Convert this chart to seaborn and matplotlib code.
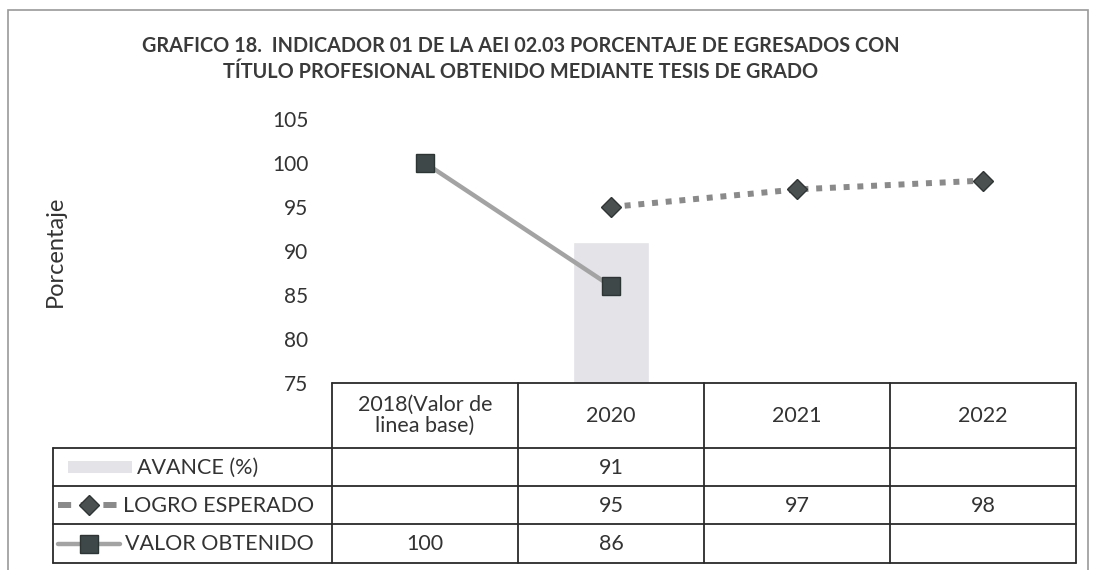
import numpy as np
import pandas as pd
import matplotlib
matplotlib.use("Agg")
import matplotlib.pyplot as plt
import seaborn as sns
from matplotlib.lines import Line2D
from matplotlib.patches import Rectangle

# ---------------- data ----------------
categories = ["2018(Valor de\nlinea base)", "2020", "2021", "2022"]
avance = [np.nan, 91, np.nan, np.nan]
logro = [np.nan, 95, 97, 98]
valor = [100, 86, np.nan, np.nan]
series_names = ["AVANCE (%)", "LOGRO ESPERADO", "VALOR OBTENIDO"]
yticks = [75, 80, 85, 90, 95, 100, 105]
title = ("GRAFICO 18.  INDICADOR 01 DE LA AEI 02.03 PORCENTAJE DE EGRESADOS CON\n"
         "TÍTULO PROFESIONAL OBTENIDO MEDIANTE TESIS DE GRADO")
ylabel = "Porcentaje"

# ---------------- style ----------------
sns.set_theme(style="white")
plt.rcParams['font.family'] = ['Lato', 'DejaVu Sans']
TXT = "#333333"
BAR = "#e3e3e8"
LINE_V = "#a3a3a3"
LINE_L = "#8a8a8a"
MK = "#3e4848"

W, H = 1094, 570
fig = plt.figure(figsize=(W / 100, H / 100), dpi=100)
fig.patch.set_facecolor("white")


def px(x0, y0, x1, y1):
    return [x0 / W, 1 - y1 / H, (x1 - x0) / W, (y1 - y0) / H]


PL, PR, PT, PB = 332, 1076, 119, 383
ax = fig.add_axes(px(PL, PT, PR, PB))

df = pd.DataFrame({"cat": categories, "avance": avance, "logro": logro, "valor": valor})
df["pos"] = np.arange(len(df))

sns.barplot(data=df, x="cat", y="avance", order=categories, color=BAR,
            width=0.41, saturation=1, ax=ax, errorbar=None)

logro_style = dict(color=LINE_L, linewidth=4.3, linestyle=(0, (1, 1.3)),
                   dash_capstyle="butt", marker="D", markersize=10.5,
                   markerfacecolor="#4a4f4f", markeredgecolor="#2f3535",
                   markeredgewidth=1)
valor_style = dict(color=LINE_V, linewidth=3.2, linestyle="-",
                   marker="s", markersize=12.5, markerfacecolor=MK,
                   markeredgecolor="#2c3434", markeredgewidth=1)

sns.lineplot(data=df.dropna(subset=["logro"]), x="pos", y="logro", ax=ax,
             **logro_style)
sns.lineplot(data=df.dropna(subset=["valor"]), x="pos", y="valor", ax=ax,
             **valor_style)

ax.set_xlim(-0.5, len(categories) - 0.5)
ax.set_ylim(75, 105)
ax.set_yticks(yticks)
ax.set_yticklabels([str(v) for v in yticks], fontsize=15, color=TXT)
ax.set_xticks([])
ax.set_xlabel("")
ax.set_ylabel(ylabel, fontsize=17, color=TXT)
ax.yaxis.set_label_coords((66 - PL) / (PR - PL), 0.5)
ax.tick_params(axis="y", length=0, pad=17)
for s in ax.spines.values():
    s.set_visible(False)
ax.patch.set_alpha(0)

# ---------------- title ----------------
fig.text(521 / W, 1 - 59 / H, title, ha="center", va="center", fontsize=14.3,
         fontweight="bold", color="#3a3a3a", linespacing=1.35)

# ---------------- data table ----------------
TL, TT, TB = 53, 383, 563
tab = fig.add_axes(px(TL, TT, PR, TB))
tab.set_xlim(TL, PR)
tab.set_ylim(TB, TT)
tab.axis("off")

ncol = len(categories)
col_w = (PR - PL) / ncol
col_edges = [PL + i * col_w for i in range(ncol + 1)]
row_edges = [383, 448, 486, 524, 563]
LC = "#2a2a2a"
LW = 1.3

tab.plot([PL, PR], [row_edges[0]] * 2, color=LC, lw=LW, clip_on=False)
for y in row_edges[1:]:
    tab.plot([TL, PR], [y, y], color=LC, lw=LW, clip_on=False)
tab.plot([TL, TL], [row_edges[1], row_edges[-1]], color=LC, lw=LW, clip_on=False)
for x in col_edges:
    tab.plot([x, x], [row_edges[0], row_edges[-1]], color=LC, lw=LW, clip_on=False)

FS = 15.5
for i, c in enumerate(categories):
    cx = (col_edges[i] + col_edges[i + 1]) / 2
    cy = (row_edges[0] + row_edges[1]) / 2
    tab.text(cx, cy, c, ha="center", va="center", fontsize=FS, color=TXT,
             linespacing=1.1)

rows = [avance, logro, valor]
for r, vals in enumerate(rows):
    cy = (row_edges[r + 1] + row_edges[r + 2]) / 2
    for i, v in enumerate(vals):
        if not np.isnan(v):
            cx = (col_edges[i] + col_edges[i + 1]) / 2
            tab.text(cx, cy + 1, f"{v:g}", ha="center", va="center",
                     fontsize=FS, color=TXT)

# legend keys + row labels
cy0 = (row_edges[1] + row_edges[2]) / 2
tab.add_patch(Rectangle((68, cy0 - 6), 64, 12, color=BAR, lw=0))
tab.text(137, cy0 + 1, series_names[0], ha="left", va="center", fontsize=FS, color=TXT)

cy1 = (row_edges[2] + row_edges[3]) / 2
tab.add_line(Line2D([58, 120], [cy1, cy1], color=LINE_L, linewidth=4.3,
                    linestyle=(0, (2.2, 1.6)), dash_capstyle="butt"))
tab.add_line(Line2D([89], [cy1], linestyle="none", **{k: v for k, v in logro_style.items()
                                                       if k.startswith("marker")}))
tab.text(123, cy1 + 1, series_names[1], ha="left", va="center", fontsize=FS, color=TXT)

cy2 = (row_edges[3] + row_edges[4]) / 2
tab.add_line(Line2D([58, 120], [cy2, cy2], color=LINE_V, linewidth=3.2))
tab.add_line(Line2D([89], [cy2], linestyle="none", **{k: v for k, v in valor_style.items()
                                                       if k.startswith("marker")}))
tab.text(125, cy2 + 1, series_names[2], ha="left", va="center", fontsize=FS, color=TXT)

# outer chart frame
fig.add_artist(Rectangle((8 / W, 1 - 600 / H), (1088 - 8) / W, (600 - 10) / H,
                         transform=fig.transFigure, fill=False,
                         edgecolor="#9a9a9a", lw=1.2))

fig.savefig("out.png", dpi=100, facecolor="white")
